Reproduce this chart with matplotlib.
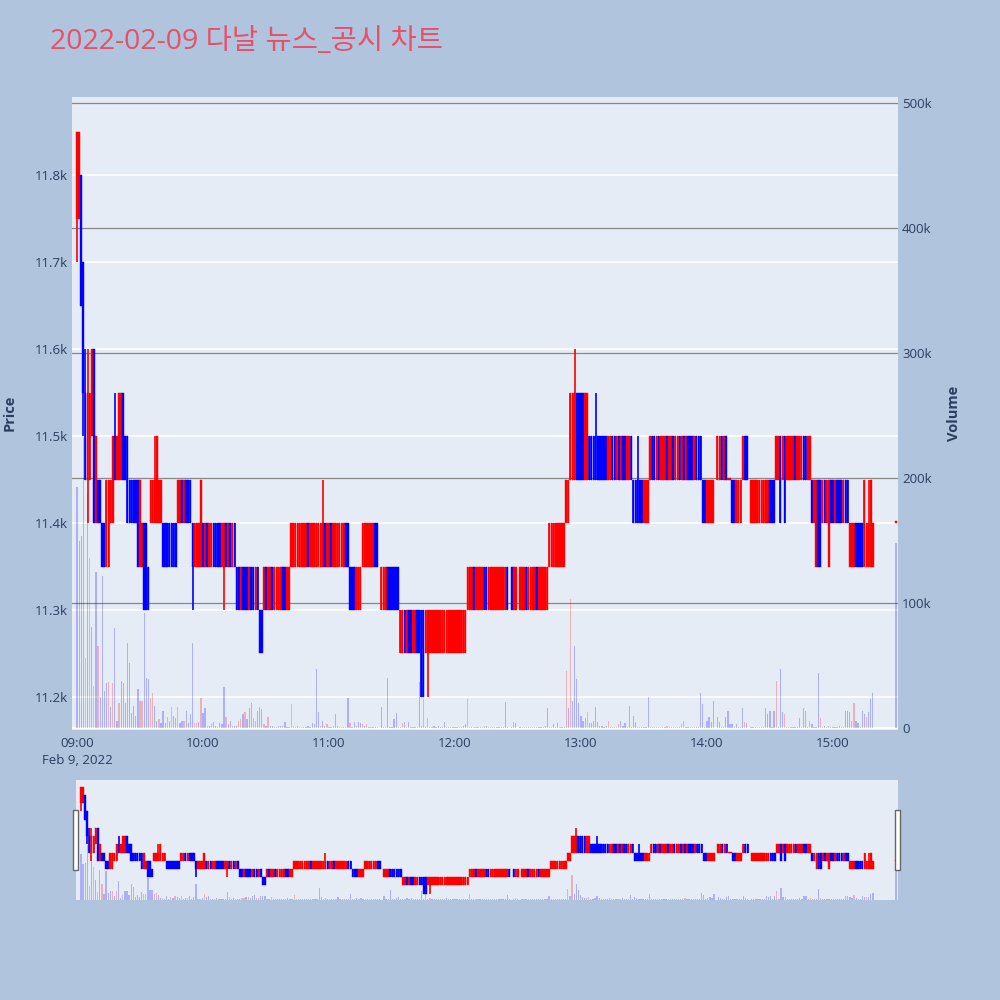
import matplotlib
matplotlib.use('Agg')
import matplotlib.pyplot as plt
from matplotlib.transforms import blended_transform_factory
from matplotlib.patches import Rectangle
import numpy as np

plt.rcParams['font.family'] = ['Open Sans', 'Noto Sans CJK KR', 'DejaVu Sans']

# minutes after 09:00 (last bar is the 15:30 closing auction)
minutes = list(range(380)) + [390]

opens = [
    11750, 11750, 11800, 11700, 11550, 11450, 11450, 11500, 11600, 11400,
    11450, 11450, 11400, 11400, 11350, 11350, 11400, 11400, 11500, 11450,
    11450, 11450, 11550, 11500, 11500, 11450, 11450, 11450, 11450, 11450,
    11350, 11350, 11400, 11400, 11350, 11400, 11400, 11400, 11400, 11400,
    11400, 11400, 11400, 11400, 11400, 11400, 11400, 11400, 11400, 11400,
    11450, 11400, 11450, 11450, 11450, 11400, 11350, 11350, 11350, 11350,
    11400, 11350, 11400, 11350, 11350, 11400, 11400, 11400, 11400, 11350,
    11350, 11400, 11350, 11400, 11350, 11400, 11350, 11350, 11300, 11350,
    11350, 11350, 11300, 11350, 11350, 11300, 11350, 11300, 11300, 11300,
    11350, 11300, 11300, 11350, 11300, 11300, 11300, 11300, 11350, 11350,
    11300, 11300, 11350, 11350, 11350, 11350, 11350, 11350, 11350, 11350,
    11400, 11350, 11350, 11350, 11350, 11350, 11350, 11350, 11400, 11350,
    11350, 11400, 11350, 11350, 11350, 11350, 11350, 11350, 11400, 11400,
    11350, 11350, 11350, 11300, 11300, 11300, 11350, 11350, 11350, 11350,
    11350, 11350, 11400, 11400, None, 11300, 11300, 11300, 11350, 11350,
    11350, 11350, 11350, 11350, 11250, 11250, 11300, 11250, 11300, 11300,
    11250, 11250, 11300, 11300, 11300, 11300, 11250, 11250, 11250, 11250,
    11250, 11250, 11250, 11250, 11250, 11250, 11250, 11250, 11250, 11250,
    11250, 11250, 11250, 11250, 11250, 11250, 11300, 11300, 11300, 11350,
    11300, 11300, 11300, 11300, 11350, 11350, 11300, 11300, 11300, 11300,
    11300, 11300, 11300, 11300, 11300, 11350, None, 11350, 11300, 11300,
    None, 11300, 11300, 11300, 11350, 11300, 11300, 11300, 11300, 11350,
    11300, 11300, 11300, 11300, 11300, 11350, 11350, 11350, 11350, 11350,
    11350, 11350, 11350, 11400, 11400, 11450, 11450, 11450, 11550, 11550,
    11550, 11550, 11450, 11450, 11500, 11500, 11500, 11500, 11500, 11500,
    11500, 11500, 11500, 11450, 11450, 11500, 11500, 11450, 11500, 11450,
    11500, 11500, 11450, 11450, 11500, 11450, 11450, 11450, 11450, 11450,
    11400, 11400, 11400, 11450, 11500, 11500, 11450, 11500, 11450, 11450,
    11450, 11500, 11450, 11450, 11500, 11450, 11450, 11500, 11450, 11500,
    11450, 11500, 11500, 11500, 11450, 11500, 11500, 11500, 11450, 11450,
    11400, 11400, 11400, 11400, None, 11450, 11450, 11500, 11450, 11500,
    11450, 11450, 11450, 11450, 11400, 11400, 11400, 11450, 11500, 11500,
    None, 11400, 11400, 11400, 11400, 11400, 11400, 11400, 11400, 11400,
    11450, 11450, 11450, 11450, 11450, 11500, 11450, 11500, 11450, 11450,
    11450, 11450, 11500, 11450, 11450, 11450, 11500, 11500, 11450, 11450,
    11450, 11400, 11350, 11450, 11450, 11400, 11450, 11400, 11350, 11450,
    11450, 11400, 11450, 11450, 11450, 11400, 11450, 11450, 11350, 11350,
    11350, 11400, 11400, 11400, 11400, 11350, 11350, 11350, 11350, 11350,
    11400,
]

closes = [
    11850, 11850, 11650, 11550, 11450, 11550, 11550, 11600, 11400, 11500,
    11400, 11400, 11350, 11350, 11450, 11450, 11450, 11500, 11450, 11500,
    11550, 11550, 11450, 11450, 11400, 11400, 11400, 11400, 11400, 11350,
    11450, 11400, 11300, 11300, 11300, 11450, 11450, 11450, 11500, 11450,
    11450, 11350, 11350, 11350, 11350, 11350, 11350, 11350, 11450, 11450,
    11400, 11450, 11400, 11400, 11400, 11350, 11400, 11400, 11400, 11450,
    11350, 11400, 11350, 11400, 11400, 11350, 11350, 11350, 11350, 11400,
    11400, 11350, 11400, 11350, 11400, 11350, 11300, 11300, 11350, 11300,
    11300, 11300, 11350, 11300, 11300, 11350, 11300, 11250, 11250, 11350,
    11300, 11350, 11350, 11300, 11350, 11350, 11350, 11350, 11300, 11300,
    11350, 11350, 11400, 11400, 11400, 11400, 11400, 11400, 11400, 11400,
    11350, 11400, 11400, 11400, 11400, 11400, 11400, 11400, 11350, 11400,
    11400, 11350, 11400, 11400, 11400, 11400, 11400, 11400, 11350, 11350,
    11300, 11300, 11300, 11350, 11350, 11350, 11400, 11400, 11400, 11400,
    11400, 11400, 11350, 11350, None, 11350, 11350, 11350, 11300, 11300,
    11300, 11300, 11300, 11300, 11300, 11300, 11250, 11300, 11250, 11250,
    11300, 11300, 11250, 11250, 11200, 11200, 11300, 11300, 11300, 11300,
    11300, 11300, 11300, 11300, 11300, 11300, 11300, 11300, 11300, 11300,
    11300, 11300, 11300, 11300, 11300, 11300, 11350, 11350, 11350, 11300,
    11350, 11350, 11350, 11350, 11300, 11300, 11350, 11350, 11350, 11350,
    11350, 11350, 11350, 11350, 11350, 11300, None, 11300, 11350, 11350,
    None, 11350, 11350, 11350, 11300, 11350, 11350, 11350, 11350, 11300,
    11350, 11350, 11350, 11350, 11350, 11400, 11400, 11400, 11400, 11400,
    11400, 11400, 11400, 11450, 11450, 11550, 11550, 11550, 11450, 11450,
    11450, 11450, 11550, 11550, 11450, 11450, 11450, 11450, 11450, 11450,
    11450, 11450, 11450, 11500, 11500, 11450, 11450, 11500, 11450, 11500,
    11450, 11450, 11500, 11500, 11450, 11400, 11400, 11400, 11400, 11400,
    11450, 11450, 11450, 11500, 11450, 11450, 11500, 11450, 11500, 11500,
    11500, 11450, 11500, 11500, 11450, 11500, 11500, 11450, 11500, 11450,
    11500, 11450, 11450, 11450, 11500, 11450, 11450, 11450, 11400, 11400,
    11450, 11450, 11450, 11450, None, 11500, 11500, 11450, 11500, 11450,
    11450, 11450, 11400, 11400, 11450, 11450, 11450, 11500, 11450, 11450,
    None, 11450, 11450, 11450, 11450, 11450, 11450, 11450, 11450, 11450,
    11400, 11400, 11400, 11500, 11500, 11400, 11500, 11400, 11500, 11500,
    11500, 11500, 11450, 11500, 11500, 11500, 11450, 11450, 11500, 11500,
    11400, 11450, 11450, 11350, 11350, 11450, 11400, 11450, 11450, 11400,
    11400, 11450, 11400, 11400, 11400, 11450, 11400, 11400, 11400, 11400,
    11400, 11350, 11350, 11350, 11350, 11450, 11400, 11400, 11450, 11400,
    11400,
]

# wicks that reach beyond the body (bar index: price)
highs_extra = {4: 11600, 5: 11600, 18: 11550, 37: 11500, 117: 11450,
               237: 11600, 247: 11550, 267: 11500, 377: 11450}
lows_extra = {0: 11700, 3: 11500, 5: 11400, 55: 11300, 70: 11300, 167: 11200}

# volume in thousands of shares
volumes_k = [
    193, 150, 154, 232, 56, 188, 136, 81, 34, 125,
    66, 25, 122, 30, 36, 37, 17, 36, 80, 6,
    20, 38, 36, 20, 68, 52, 12, 18, 10, 31,
    22, 22, 92, 40, 39, 24, 28, 18, 6, 7,
    4, 14, 4, 9, 6, 17, 10, 8, 17, 4,
    6, 6, 14, 4, 11, 68, 4, 4, 5, 24,
    12, 16, 2, 2, 4, 5, 2, 1, 4, 3,
    33, 9, 3, 6, 2, 2, 2, 6, 7, 11,
    13, 7, 16, 20, 8, 6, 14, 17, 15, 3,
    2, 9, 2, 2, 1, 1, 2, 2, 2, 5,
    1, 1, 19, 2, 1, 2, 1, 1, 1, 1,
    2, 1, 4, 3, 47, 13, 2, 6, 2, 3,
    1, 1, 2, 11, 2, 1, 1, 1, 1, 24,
    4, 1, 5, 2, 5, 4, 3, 2, 3, 1,
    1, 1, 1, 1, 0, 17, 1, 1, 40, 1,
    1, 7, 12, 1, 1, 4, 5, 1, 5, 1,
    1, 1, 1, 37, 2, 23, 1, 8, 1, 1,
    2, 1, 2, 1, 1, 5, 1, 1, 1, 1,
    1, 1, 1, 1, 2, 3, 23, 1, 1, 1,
    1, 1, 1, 1, 2, 2, 1, 1, 1, 1,
    1, 1, 1, 1, 21, 1, 0, 1, 5, 4,
    0, 1, 1, 1, 1, 1, 1, 1, 1, 1,
    1, 1, 1, 2, 16, 1, 1, 3, 1, 4,
    1, 1, 1, 46, 16, 103, 22, 66, 39, 20,
    10, 6, 8, 13, 4, 4, 6, 17, 5, 2,
    2, 1, 2, 6, 1, 1, 1, 1, 3, 6,
    2, 4, 1, 18, 1, 10, 5, 1, 1, 1,
    1, 1, 25, 1, 1, 1, 1, 1, 1, 1,
    1, 2, 1, 1, 1, 1, 1, 1, 3, 6,
    1, 1, 1, 1, 1, 1, 1, 28, 19, 1,
    6, 9, 5, 22, 0, 9, 5, 1, 1, 9,
    14, 3, 3, 1, 3, 1, 1, 16, 5, 4,
    0, 1, 1, 1, 1, 1, 1, 1, 16, 11,
    14, 1, 14, 38, 1, 47, 13, 11, 1, 1,
    1, 1, 1, 1, 8, 1, 16, 14, 1, 6,
    3, 1, 1, 44, 8, 1, 2, 1, 2, 1,
    1, 1, 1, 2, 1, 1, 14, 14, 13, 6,
    20, 6, 4, 1, 14, 11, 9, 13, 23, 28,
    148,
]

# bars whose volume is drawn in red
vol_red = [4, 6, 8, 10, 15, 17, 20, 30, 31, 35, 36, 39, 43, 45, 48, 51, 56, 57,
           59, 62, 64, 71, 74, 77, 78, 80, 84, 85, 89, 91, 102, 103, 116, 119,
           122, 130, 133, 136, 138, 140, 155, 165, 167, 186, 189, 190, 196, 208,
           212, 214, 226, 230, 233, 235, 243, 253, 257, 258, 262, 276, 278, 281,
           282, 288, 289, 318, 333, 337, 349, 354, 370, 376]

price_ticks = [11200, 11300, 11400, 11500, 11600, 11700, 11800]
price_labels = ['11.2k', '11.3k', '11.4k', '11.5k', '11.6k', '11.7k', '11.8k']
vol_ticks = [0, 100000, 200000, 300000, 400000, 500000]
vol_labels = ['0', '100k', '200k', '300k', '400k', '500k']
time_ticks = [0, 60, 120, 180, 240, 300, 360]
time_labels = ['09:00\nFeb 9, 2022', '10:00', '11:00', '12:00', '13:00', '14:00', '15:00']

x = np.array(minutes, dtype=float)
o = np.array([np.nan if v is None else v for v in opens], dtype=float)
c = np.array([np.nan if v is None else v for v in closes], dtype=float)
hi = np.fmax(o, c)
lo = np.fmin(o, c)
for k, v in highs_extra.items():
    hi[k] = v
for k, v in lows_extra.items():
    lo[k] = v
valid = ~np.isnan(o)
up = c >= o
cand_col = np.where(up, '#ff0000', '#0000ff')
vol = np.array(volumes_k, dtype=float) * 1000
vol_col = [(1, 0, 0, 0.25) if i in vol_red else (0, 0, 1, 0.25) for i in range(len(vol))]

XLIM = (-2.4, 391)
PLIM = (11162, 11890)
VLIM = (-1600, 504800)
TXT = '#2a3f5f'
BG = '#e5ecf6'


def draw(axv, axp, grids):
    axv.set_facecolor(BG)
    axp.patch.set_visible(False)
    if grids:
        tr = blended_transform_factory(axv.transAxes, axp.transData)
        for p in price_ticks:
            axv.plot([0, 1], [p, p], color='white', lw=1.2, transform=tr, zorder=0)
        for v in vol_ticks[1:]:
            axv.axhline(v, color='#888888', lw=0.9, zorder=0.5)
        axv.axhline(0, color='white', lw=1.5, zorder=0.5)
    axv.bar(x, vol, width=0.6, color=vol_col, linewidth=0, zorder=1)
    axp.vlines(x[valid], lo[valid], hi[valid], colors=cand_col[valid], lw=1.2, zorder=2)
    body = np.maximum(np.abs(c - o), 2)
    bottom = np.fmin(o, c)
    axp.bar(x[valid], body[valid], bottom=bottom[valid],
            width=0.8, color=cand_col[valid], edgecolor=cand_col[valid],
            linewidth=0.3, zorder=3)
    for a in (axv, axp):
        a.set_xlim(*XLIM)
        for s in a.spines.values():
            s.set_visible(False)
    axp.set_ylim(*PLIM)
    axv.set_ylim(*VLIM)


fig = plt.figure(figsize=(10, 10), dpi=100, facecolor='#b0c4de')

# main chart
axv = fig.add_axes([0.072, 0.270, 0.826, 0.633])
axp = fig.add_axes([0.072, 0.270, 0.826, 0.633], sharex=axv)
axp.set_zorder(axv.get_zorder() + 1)
draw(axv, axp, True)

axp.set_yticks(price_ticks)
axp.set_yticklabels(price_labels)
axp.tick_params(axis='y', length=0, pad=3, labelsize=9.5, labelcolor=TXT)
axp.tick_params(axis='x', length=0, labelbottom=False)
axv.yaxis.tick_right()
axv.set_yticks(vol_ticks)
axv.set_yticklabels(vol_labels)
axv.tick_params(axis='y', length=0, pad=3, labelsize=9.5, labelcolor=TXT)
axv.set_xticks(time_ticks)
axv.set_xticklabels(time_labels, linespacing=1.45)
axv.tick_params(axis='x', length=0, pad=5, labelsize=9.5, labelcolor=TXT)

fig.text(0.010, 0.587, 'Price', rotation=90, ha='center', va='center',
         fontsize=10.5, fontweight='bold', color=TXT)
fig.text(0.954, 0.587, 'Volume', rotation=90, ha='center', va='center',
         fontsize=10.5, fontweight='bold', color=TXT)
fig.text(0.050, 0.958, '2022-02-09 다날 뉴스_공시 차트', ha='left', va='center',
         fontsize=20.5, color='#e8506a')

# range slider
sv = fig.add_axes([0.076, 0.100, 0.822, 0.120])
sp = fig.add_axes([0.076, 0.100, 0.822, 0.120], sharex=sv)
sp.set_zorder(sv.get_zorder() + 1)
draw(sv, sp, False)
for a in (sv, sp):
    a.set_xticks([])
    a.set_yticks([])
for hx in (0.073, 0.895):
    fig.patches.append(Rectangle((hx, 0.130), 0.005, 0.060, transform=fig.transFigure,
                                 facecolor='white', edgecolor='#666666', lw=1, zorder=5))

fig.savefig('out.png', dpi=100, facecolor=fig.get_facecolor())
